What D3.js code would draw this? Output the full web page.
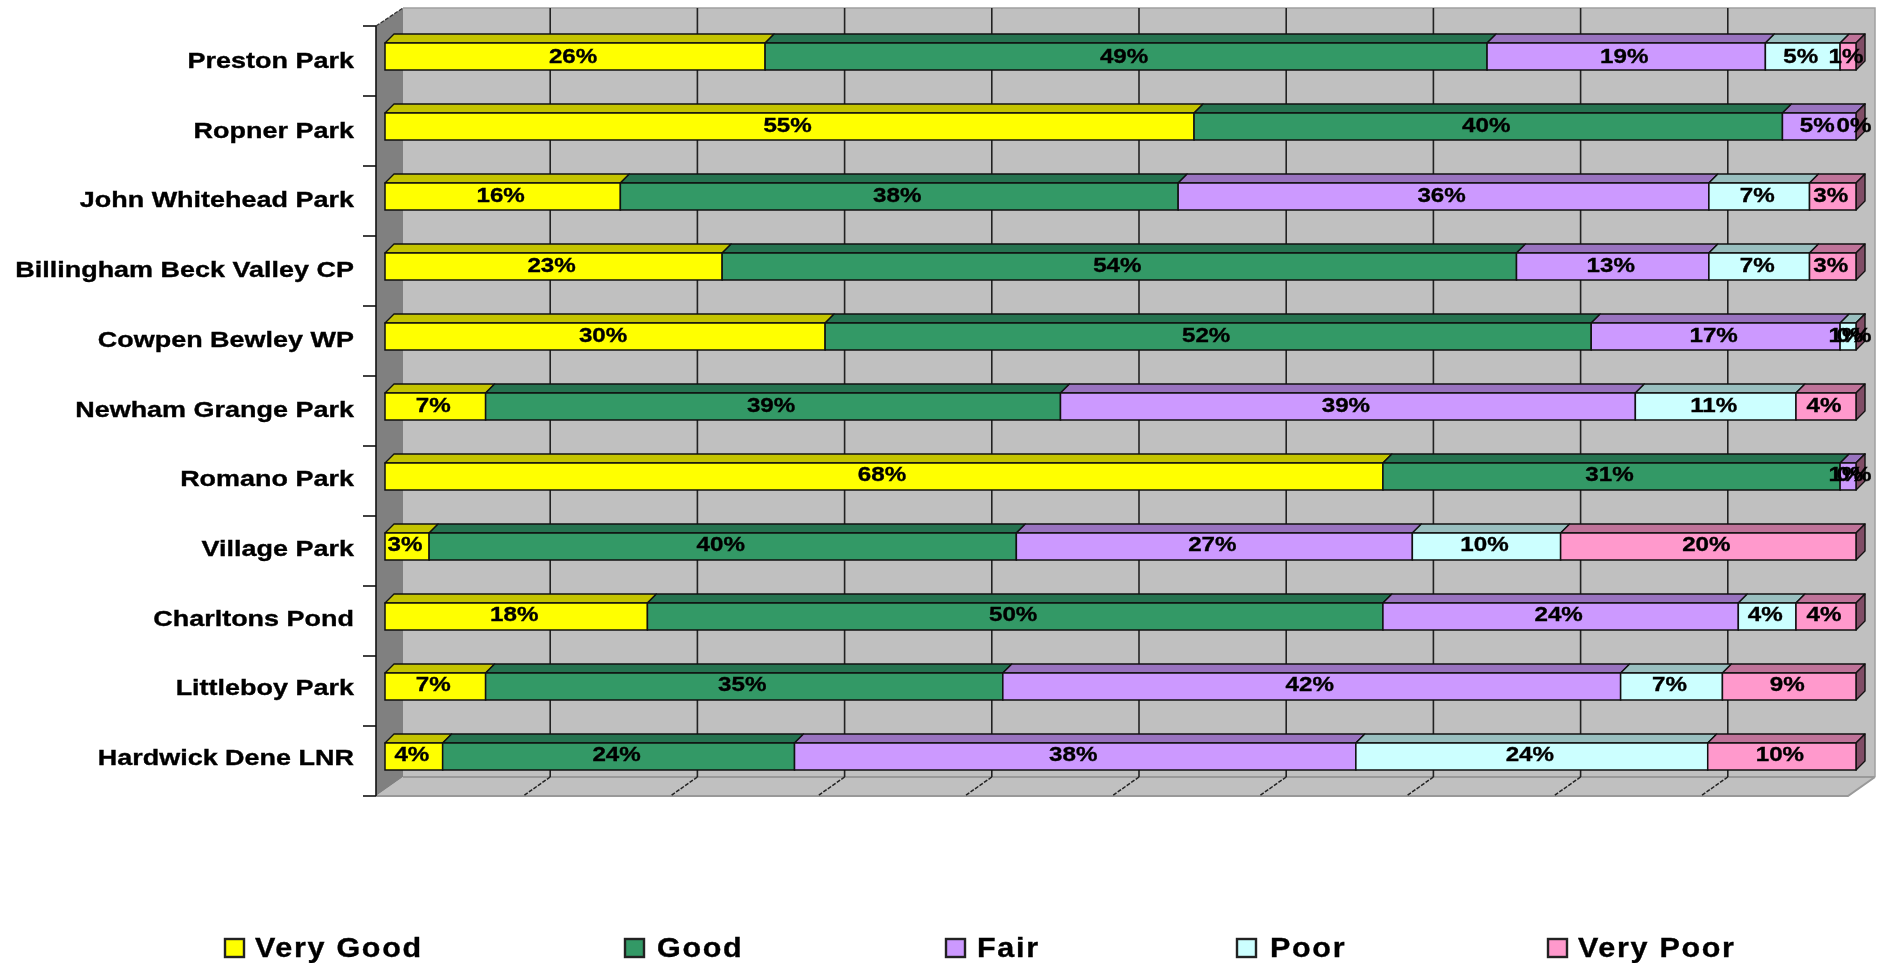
<!DOCTYPE html>
<html><head><meta charset="utf-8">
<script src="https://cdnjs.cloudflare.com/ajax/libs/d3/7.8.5/d3.min.js"></script>
<style>html,body{margin:0;padding:0;background:#fff}svg{display:block;filter:blur(0.55px)}text{font-family:"Liberation Sans",Arial,sans-serif;font-weight:bold;fill:#000;stroke:#000;stroke-width:.35px}</style>
</head><body><svg id="c" width="1877" height="964"></svg>
<script>
const categories=["Preston Park","Ropner Park","John Whitehead Park","Billingham Beck Valley CP","Cowpen Bewley WP","Newham Grange Park","Romano Park","Village Park","Charltons Pond","Littleboy Park","Hardwick Dene LNR"];
const seriesNames=["Very Good","Good","Fair","Poor","Very Poor"];
const veryGood=[25.84,55,16,22.92,29.92,6.84,67.84,3,17.84,6.84,3.92];
const good=[49.08,40,37.92,54,52.08,39.08,31.08,39.92,50,35.16,23.92];
const fair=[18.92,5,36.08,13.08,16.92,39.08,1.08,26.92,24.16,42,38.16];
const poor=[5.08,null,6.84,6.84,1.08,10.92,null,10.08,3.92,6.92,23.92];
const veryPoor=[1.08,0,3.16,3.16,0,4.08,0,20.08,4.08,9.08,10.08];
const seriesValues=[veryGood,good,fair,poor,veryPoor];
const frontColors=["#ffff00","#339966","#cc99ff","#ccffff","#ff99cc"];
const topColors=["#c4c400","#267350","#9973bf","#99bfbf","#bf7399"];
const sideColors=["#808000","#1a4d33","#664d80","#668080","#804d66"];
const percentTicks=[0,10,20,30,40,50,60,70,80,90,100];

const svg=d3.select("#c");
const wallX=d3.scaleLinear().domain([0,100]).range([403,1875]);
const barX=d3.scaleLinear().domain([0,100]).range([385,1856]);
const band=d3.scaleBand().domain(categories).range([26,796]);
const catLabelY=d3.scalePoint().domain(categories).range([68,765]);
const valueLabelY=d3.scalePoint().domain(categories).range([62.5,760.5]);
const floorDx=-27,floorDy=19,wallTop=8,wallBottom=777,barD=9;
const barTop=c=>band(c)+17, barH=band.bandwidth()-43;

// walls
svg.append("rect").attr("x",wallX(0)).attr("y",wallTop).attr("width",wallX(100)-wallX(0)).attr("height",wallBottom-wallTop).attr("fill","#c0c0c0");
svg.append("path").attr("d",`M${wallX(0)},${wallTop}H${wallX(100)}V${wallBottom}`).attr("fill","none").attr("stroke","#a0a0a0").attr("stroke-width",1.5);
svg.append("path").attr("d",`M${wallX(0)},${wallBottom}H${wallX(100)}L${wallX(100)+floorDx},${wallBottom+floorDy}H${wallX(0)+floorDx}Z`).attr("fill","#c0c0c0");
svg.append("path").attr("d",`M${wallX(0)},${wallBottom}H${wallX(100)}`).attr("stroke","#999").attr("stroke-width",2);
svg.append("path").attr("d",`M${wallX(100)},${wallBottom}L${wallX(100)+floorDx},${wallBottom+floorDy}H${wallX(0)+floorDx}`).attr("fill","none").attr("stroke","#999").attr("stroke-width",2);
svg.append("path").attr("d",`M${wallX(0)},${wallTop}V${wallBottom}L${wallX(0)+floorDx},${wallBottom+floorDy}V${wallTop+floorDy-1}Z`).attr("fill","#808080");

// gridlines
svg.selectAll("line.g").data(percentTicks.slice(1,-1)).join("line").attr("class","g")
  .attr("x1",wallX).attr("x2",wallX).attr("y1",wallTop).attr("y2",wallBottom).attr("stroke","#222").attr("stroke-width",1.6);
svg.selectAll("line.f").data(percentTicks.slice(1,-1)).join("line").attr("class","f")
  .attr("x1",wallX).attr("x2",d=>wallX(d)+floorDx).attr("y1",wallBottom).attr("y2",wallBottom+floorDy)
  .attr("stroke","#222").attr("stroke-width",1.5).attr("stroke-dasharray","4 1.5");

// axis
const left=wallX(0)+floorDx;
svg.append("path").attr("d",`M${left},${band.range()[0]}V${band.range()[1]}`).attr("stroke","#111").attr("stroke-width",1.6);
svg.append("path").attr("d",`M${left},${wallTop+floorDy-1}L${wallX(0)},${wallTop}`).attr("stroke","#333").attr("stroke-width",1.3).attr("stroke-dasharray","4 1.5");
const tickYs=categories.map(c=>band(c)).concat(band.range()[1]);
svg.selectAll("line.t").data(tickYs).join("line").attr("class","t").attr("x1",left-13).attr("x2",left).attr("y1",d=>d).attr("y2",d=>d).attr("stroke","#111").attr("stroke-width",1.6);

// category labels
svg.selectAll("text.cat").data(categories).join("text").attr("class","cat")
  .attr("transform",c=>`translate(354,${catLabelY(c)}) scale(1.226,1)`).attr("text-anchor","end")
  .attr("font-size",22).text(c=>c);

// bars
const rows=categories.map((c,i)=>{let acc=0;const segs=[];seriesValues.forEach((s,k)=>{const v=s[i];if(v===null)return;segs.push({c,k,v,x0:acc,x1:acc+v});acc+=v;});return segs;});
const g=svg.append("g");
rows.forEach(segs=>{
  const rowG=g.append("g");
  rowG.selectAll("path.top").data(segs).join("path").attr("class","top")
    .attr("d",d=>{const y=barTop(d.c),a=barX(d.x0),b=barX(d.x1);return `M${a},${y}L${a+barD},${y-barD}H${b+barD}L${b},${y}Z`;})
    .attr("fill",d=>topColors[d.k]).attr("stroke","#111").attr("stroke-width",1.4).attr("stroke-linejoin","round");
  const last=segs[segs.length-1];
  const y=barTop(last.c),b=barX(last.x1);
  rowG.append("path").attr("d",`M${b},${y}L${b+barD},${y-barD}V${y+barH-barD}L${b},${y+barH}Z`)
    .attr("fill",sideColors[last.k]).attr("stroke","#111").attr("stroke-width",1.4).attr("stroke-linejoin","round");
  rowG.selectAll("rect").data(segs).join("rect")
    .attr("x",d=>barX(d.x0)).attr("y",d=>barTop(d.c)).attr("width",d=>barX(d.x1)-barX(d.x0)).attr("height",barH)
    .attr("fill",d=>frontColors[d.k]).attr("stroke","#111").attr("stroke-width",1.5);
});
// value labels
g.selectAll("text.v").data(rows.flat()).join("text").attr("class","v")
  .attr("transform",d=>`translate(${barX((d.x0+d.x1)/2)-2},${valueLabelY(d.c)}) scale(1.15,1)`).attr("text-anchor","middle")
  .attr("font-size",21).text(d=>Math.round(d.v)+"%");

// legend
const legendSwatchX=[225,625,946,1237,1548];
const legendTextX=[255,657,977,1270,1578];
const legend=svg.selectAll("g.l").data(seriesNames).join("g").attr("class","l");
legend.append("rect").attr("x",(d,i)=>legendSwatchX[i]).attr("y",939).attr("width",19).attr("height",18)
  .attr("fill",(d,i)=>frontColors[i]).attr("stroke","#222").attr("stroke-width",2.4);
legend.append("text").attr("transform",(d,i)=>`translate(${legendTextX[i]},957) scale(1.13,1)`).attr("font-size",27).style("letter-spacing","1.5px").text(d=>d);
</script></body></html>
